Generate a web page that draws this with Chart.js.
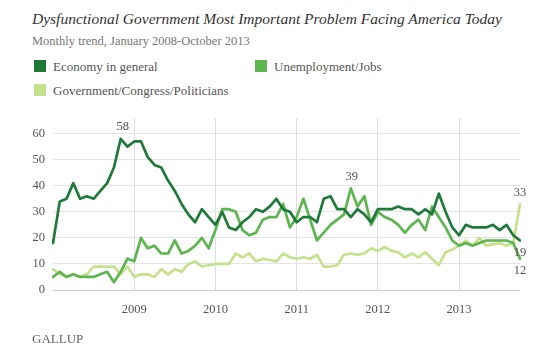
<!DOCTYPE html>
<html>
<head>
<meta charset="utf-8">
<script src="https://cdn.jsdelivr.net/npm/chart.js@4.4.0/dist/chart.umd.min.js"></script>
<style>
    body { margin: 0; background: #fff; }
    #wrap { position: relative; width: 560px; height: 358px; overflow: hidden; font-family: "Liberation Serif", serif; }
    #myChart { position: absolute; left: 0; top: 0; }
    .txt { position: absolute; white-space: nowrap; font-family: "Liberation Serif", serif; }
    #titulo { left: 32px; top: 10px; font-size: 15.5px; font-style: italic; color: #333; }
    #subtitulo { left: 32px; top: 34px; font-size: 12.5px; color: #777; }
    .leyenda { position: absolute; font-family: "Liberation Serif", serif; font-size: 13px; color: #555; white-space: nowrap; }
    .leyenda span { display: inline-block; width: 12px; height: 12px; vertical-align: -1px; margin-right: 7px; }
    #gallup { left: 32px; top: 331px; font-size: 13px; color: #666; }
</style>
</head>
<body>
<div id="wrap">
    <div class="txt" id="titulo">Dysfunctional Government Most Important Problem Facing America Today</div>
    <div class="txt" id="subtitulo">Monthly trend, January 2008-October 2013</div>
    <div class="leyenda" style="left:34px; top:59px"><span style="background:#1f7a3a"></span>Economy in general</div>
    <div class="leyenda" style="left:255px; top:59px"><span style="background:#5cb54f"></span>Unemployment/Jobs</div>
    <div class="leyenda" style="left:34px; top:83px"><span style="background:#c6e18c"></span>Government/Congress/Politicians</div>
    <canvas id="myChart" width="560" height="358"></canvas>
    <div class="txt" id="gallup">GALLUP</div>
</div>
<script>
// meses enero 2008 - octubre 2013
const years = [2008, 2009, 2010, 2011, 2012, 2013];
const yearLabels = ['2009', '2010', '2011', '2012', '2013'];
const months = [];
years.forEach(function (y) {
    for (let m = 1; m <= 12; m++) {
        if (y === 2013 && m > 10) break;
        months.push(y + '-' + (m < 10 ? '0' + m : m));
    }
});

const economy = [
    18, 34, 35, 41, 35, 36, 35, 38, 41, 47,
    58, 55, 57, 57, 51, 48, 47, 42, 38, 33,
    29, 26, 31, 28, 25, 30, 24, 23, 26, 28,
    31, 30, 32, 35, 31, 30, 26, 28, 28, 26,
    35, 36, 31, 31, 28, 31, 29, 26, 31, 31,
    31, 32, 31, 31, 29, 31, 29, 37, 30, 24,
    21, 25, 24, 24, 24, 25, 23, 25, 21, 19
];
const unemployment = [
    5, 7, 5, 6, 5, 5, 5, 6, 7, 3,
    7, 12, 11, 20, 16, 17, 14, 14, 19, 14,
    15, 17, 20, 16, 23, 31, 31, 30, 23, 21,
    22, 27, 28, 28, 33, 24, 28, 35, 27, 19,
    22, 25, 27, 29, 39, 32, 36, 25, 30, 28,
    27, 25, 22, 25, 27, 23, 32, 28, 24, 19,
    17, 18, 17, 18, 19, 19, 19, 19, 18, 12
];
const government = [
    8, 6, 5, 6, 5, 6, 9, 9, 9, 9,
    6, 9, 5, 6, 6, 5, 8, 6, 8, 7,
    10, 11, 9, 9.5, 10, 10, 10, 14, 12.5, 14,
    11, 12, 11.5, 11, 14, 12.5, 12, 12.5, 12, 13.5,
    9, 9, 9.5, 13.5, 14, 13.5, 14, 16, 15, 16.5,
    15, 14.5, 12.5, 14, 12.5, 14.5, 12, 9.5, 14.5, 15.5,
    17, 19, 17, 20, 17, 17.5, 18, 17, 18, 33
];
const yTicks = [0, 10, 20, 30, 40, 50, 60];

// etiquetas de valores sobre los puntos
const notas = [
    { ds: 0, idx: 10, dx: 2, dy: -12 },
    { ds: 1, idx: 44, dx: 1, dy: -12 },
    { ds: 2, idx: 69, dx: 0, dy: -11 },
    { ds: 0, idx: 69, dx: 0, dy: 12 },
    { ds: 1, idx: 69, dx: 0, dy: 12 }
];

const notasPlugin = {
    id: 'notas',
    afterDatasetsDraw(chart) {
        const c = chart.ctx;
        c.save();
        c.font = '12.5px "Liberation Serif", serif';
        c.fillStyle = '#555';
        c.textAlign = 'center';
        c.textBaseline = 'middle';
        notas.forEach(function (n) {
            const pt = chart.getDatasetMeta(n.ds).data[n.idx];
            const v = chart.data.datasets[n.ds].data[n.idx];
            c.fillText(String(v), pt.x + n.dx, pt.y + n.dy);
        });
        c.restore();
    }
};

let myChart = null;
const ctx = document.getElementById('myChart');

myChart = new Chart(ctx, {
    type: 'line',
    data: {
        labels: months,
        datasets: [{
            label: 'Economy in general',
            data: economy,
            borderColor: '#1f7a3a',
            borderWidth: 2.7
        }, {
            label: 'Unemployment/Jobs',
            data: unemployment,
            borderColor: '#5cb54f',
            borderWidth: 2.7
        }, {
            label: 'Government/Congress/Politicians',
            data: government,
            borderColor: '#c6e18c',
            borderWidth: 2.7
        }]
    },
    options: {
        responsive: false,
        animation: false,
        layout: { padding: { top: 118, right: 40, bottom: 38, left: 0 } },
        elements: {
            point: { radius: 0 },
            line: { tension: 0, fill: false, borderJoinStyle: 'round', borderCapStyle: 'round' }
        },
        plugins: {
            legend: { display: false },
            tooltip: { enabled: false }
        },
        scales: {
            x: {
                type: 'category',
                offset: false,
                border: { display: false },
                grid: {
                    drawTicks: false,
                    color: function (c) {
                        return (c.index > 0 && c.index % 12 === 0) ? '#dedede' : 'rgba(0,0,0,0)';
                    }
                },
                ticks: {
                    autoSkip: false,
                    maxRotation: 0,
                    padding: 12,
                    color: '#555',
                    font: { family: '"Liberation Serif", serif', size: 12.5 },
                    callback: function (val, i) {
                        if (i > 0 && i % 12 === 0) return yearLabels[i / 12 - 1];
                        return '';
                    }
                },
                afterFit: function (s) { s.height = 30; }
            },
            y: {
                min: 0,
                max: 66,
                border: { display: false },
                grid: {
                    drawTicks: false,
                    color: function (c) {
                        return c.tick && c.tick.value === 0 ? '#cccccc' : '#e4e4e4';
                    }
                },
                ticks: {
                    padding: 8,
                    color: '#555',
                    font: { family: '"Liberation Serif", serif', size: 12.5 }
                },
                afterBuildTicks: function (s) {
                    s.ticks = yTicks.map(function (v) { return { value: v }; });
                },
                afterFit: function (s) { s.width = 53; }
            }
        }
    },
    plugins: [notasPlugin]
});
</script>
</body>
</html>
